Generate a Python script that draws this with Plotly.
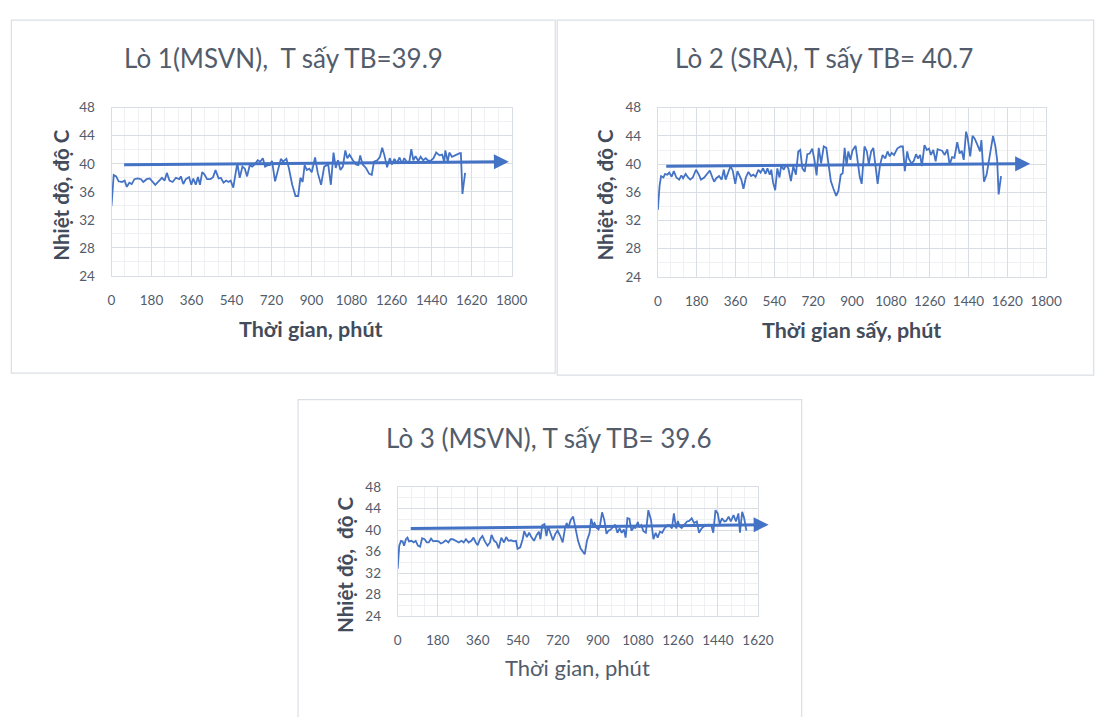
import plotly.graph_objects as go

W, H = 1095, 717

# ---------------- data ----------------
# Lò 1 (MSVN)
t1 = [0, 10, 21, 32, 47, 59, 69, 80, 91, 103, 118, 133, 143, 158, 172, 187, 197, 212, 227, 239,
      249, 261, 275, 290, 305, 312, 323, 334, 349, 359, 368, 379, 389, 398, 408, 418, 430, 445, 457, 468,
      482, 492, 504, 516, 526, 536, 548, 555, 566, 577, 589, 600, 610, 622, 633, 644, 658, 669, 681, 691,
      703, 713, 722, 736, 750, 762, 772, 787, 798, 813, 828, 840, 850, 860, 869, 879, 890, 901, 916, 928,
      943, 957, 975, 987, 999, 1009, 1019, 1030, 1041, 1052, 1061, 1071, 1086, 1100, 1111, 1119, 1130, 1145, 1159, 1171,
      1181, 1196, 1208, 1218, 1228, 1240, 1252, 1262, 1273, 1284, 1296, 1307, 1317, 1328, 1340, 1349, 1358, 1368, 1380, 1391,
      1402, 1414, 1426, 1439, 1449, 1461, 1476, 1488, 1497, 1502, 1513, 1520, 1532, 1542, 1553, 1567, 1572, 1579, 1591]
v1 = [34.0, 38.4, 38.2, 37.5, 37.4, 37.6, 36.7, 37.3, 37.1, 37.8, 37.9, 37.8, 37.4, 37.8, 37.9, 37.4, 37.0, 37.5, 38.0, 37.6,
      38.7, 37.6, 37.4, 38.0, 37.8, 38.2, 37.1, 37.8, 38.1, 37.0, 37.9, 37.0, 38.1, 37.0, 38.8, 38.5, 37.8, 37.8, 38.1, 39.1,
      37.9, 38.0, 37.3, 37.6, 37.4, 37.6, 36.6, 38.0, 40.1, 38.0, 39.6, 39.3, 38.2, 39.8, 39.6, 39.9, 40.5, 40.3, 40.8, 39.6,
      39.8, 39.8, 40.4, 37.5, 39.1, 40.7, 40.3, 40.7, 39.4, 37.0, 35.4, 35.4, 38.0, 37.4, 39.8, 39.1, 39.3, 38.8, 40.9, 38.7,
      37.0, 39.6, 39.9, 37.0, 41.6, 39.4, 40.5, 39.1, 39.6, 41.9, 40.8, 41.3, 40.5, 39.9, 39.8, 41.2, 39.9, 39.4, 38.6, 38.4,
      40.3, 40.5, 41.0, 42.3, 41.2, 39.5, 40.8, 39.9, 40.7, 40.1, 40.9, 40.0, 40.8, 40.3, 40.3, 42.1, 40.5, 41.1, 40.4, 41.0,
      40.5, 40.8, 40.4, 40.5, 40.8, 41.6, 41.2, 41.3, 40.3, 41.9, 40.3, 41.6, 41.0, 41.2, 41.3, 41.5, 41.5, 35.7, 38.7]
trend1_t = [50, 1788]
trend1_v = [39.85, 40.3]

# Lò 2 (SRA)
t2 = [0, 8, 15, 26, 33, 44, 53, 64, 74, 86, 99, 109, 117, 129, 140, 150, 162, 177, 190, 200,
      215, 231, 241, 253, 261, 271, 284, 296, 306, 314, 326, 337, 347, 359, 369, 378, 387, 397, 408, 420,
      432, 443, 453, 466, 476, 488, 499, 508, 519, 526, 534, 544, 554, 564, 572, 584, 594, 605, 617, 628,
      640, 651, 660, 670, 681, 693, 704, 716, 726, 736, 746, 757, 769, 781, 792, 802, 814, 827, 837, 848,
      857, 866, 875, 883, 893, 902, 917, 928, 936, 945, 958, 969, 978, 989, 999, 1012, 1019, 1030, 1042, 1054,
      1065, 1075, 1084, 1095, 1110, 1125, 1136, 1145, 1156, 1163, 1175, 1186, 1197, 1206, 1216, 1224, 1236, 1247, 1257, 1266,
      1277, 1288, 1297, 1307, 1318, 1330, 1342, 1353, 1364, 1375, 1388, 1399, 1409, 1418, 1429, 1436, 1448, 1459, 1469, 1482,
      1494, 1500, 1512, 1524, 1535, 1545, 1554, 1565, 1573, 1580, 1591]
v2 = [33.5, 36.9, 38.3, 38.1, 38.6, 38.5, 38.8, 38.2, 39.0, 38.1, 37.8, 38.4, 38.0, 38.6, 38.1, 37.8, 38.1, 39.2, 38.5, 37.8,
      38.1, 38.8, 39.1, 38.1, 37.5, 38.0, 38.3, 37.8, 39.2, 37.8, 38.8, 39.7, 39.1, 37.2, 39.0, 38.5, 37.8, 36.5, 38.1, 38.9,
      38.3, 38.5, 38.2, 39.2, 38.8, 39.4, 38.6, 39.4, 38.5, 39.2, 37.4, 36.3, 39.4, 38.1, 39.8, 39.2, 39.9, 39.4, 37.6, 39.7,
      38.5, 41.8, 42.0, 39.4, 38.9, 41.4, 41.5, 42.2, 40.6, 38.4, 42.3, 40.1, 42.5, 42.3, 39.4, 37.6, 36.5, 35.5, 36.2, 38.5,
      38.7, 42.3, 39.8, 41.8, 40.6, 41.9, 42.6, 39.7, 38.2, 37.2, 42.5, 41.8, 40.0, 41.8, 42.3, 39.0, 37.2, 39.9, 41.3, 40.8,
      41.8, 41.1, 41.6, 41.3, 42.2, 42.5, 42.5, 39.0, 41.8, 40.8, 40.1, 40.4, 41.4, 40.8, 41.3, 39.7, 42.7, 42.0, 42.2, 41.3,
      42.0, 40.4, 42.1, 42.0, 41.9, 41.3, 42.1, 39.9, 41.0, 40.9, 43.1, 41.5, 41.9, 40.6, 44.6, 43.8, 41.1, 44.0, 43.6, 42.7,
      41.8, 43.4, 37.5, 38.5, 40.4, 42.5, 44.0, 42.5, 40.6, 35.7, 38.3]
trend2_t = [32, 1726]
trend2_v = [39.7, 40.05]

# Lò 3 (MSVN)
t3 = [0, 7, 15, 22, 29, 37, 44, 51, 62, 72, 81, 91, 101, 110, 121, 131, 140, 150, 160, 172,
      184, 194, 204, 216, 228, 238, 248, 260, 275, 287, 297, 307, 319, 331, 341, 351, 360, 370, 381, 392,
      404, 415, 422, 434, 444, 454, 466, 478, 488, 498, 510, 522, 532, 539, 551, 562, 569, 581, 591, 601,
      613, 625, 635, 642, 650, 660, 669, 676, 686, 698, 709, 719, 731, 742, 753, 760, 767, 778, 789, 801,
      811, 822, 833, 841, 851, 863, 870, 878, 885, 895, 903, 910, 919, 929, 939, 948, 958, 969, 978, 988,
      998, 1007, 1017, 1025, 1033, 1042, 1051, 1061, 1069, 1080, 1086, 1095, 1105, 1116, 1127, 1139, 1150, 1160, 1169, 1179,
      1189, 1201, 1213, 1223, 1233, 1242, 1252, 1260, 1267, 1277, 1289, 1301, 1311, 1322, 1333, 1345, 1355, 1366, 1377, 1389,
      1399, 1410, 1419, 1429, 1439, 1448, 1458, 1469, 1477, 1488, 1498, 1510, 1521, 1532, 1539, 1549, 1558, 1568]
v3 = [32.8, 37.1, 38.0, 37.9, 37.1, 38.3, 38.6, 37.9, 38.0, 37.7, 38.0, 37.1, 36.9, 38.5, 38.3, 37.7, 37.7, 38.4, 37.9, 38.0,
      37.9, 37.5, 37.7, 38.1, 37.7, 38.3, 38.3, 38.0, 37.7, 38.0, 37.7, 38.3, 37.7, 38.0, 38.6, 37.7, 37.2, 38.3, 38.9, 37.9,
      37.1, 37.7, 39.1, 38.0, 37.7, 36.6, 38.6, 37.7, 38.7, 38.0, 38.1, 37.9, 38.0, 36.5, 36.8, 38.3, 39.8, 38.7, 39.5, 38.7,
      38.0, 39.1, 39.7, 38.3, 40.9, 41.1, 38.9, 40.7, 39.5, 38.1, 39.3, 39.9, 38.9, 37.7, 40.5, 41.3, 40.4, 41.9, 42.5, 40.1,
      38.0, 36.6, 35.8, 35.5, 38.0, 39.5, 42.1, 40.9, 41.3, 40.4, 40.1, 40.9, 43.3, 41.9, 39.3, 39.9, 40.1, 40.7, 41.0, 39.5,
      40.3, 39.5, 40.1, 38.6, 42.2, 42.1, 39.9, 40.5, 40.4, 41.5, 40.5, 40.9, 39.8, 39.5, 43.7, 41.9, 38.3, 39.5, 38.6, 39.7,
      39.5, 40.4, 40.9, 40.9, 40.3, 43.1, 40.3, 41.7, 40.7, 40.4, 41.0, 41.6, 41.7, 42.2, 41.3, 41.6, 39.5, 40.3, 40.7, 40.9,
      41.0, 40.9, 39.5, 43.7, 43.1, 41.1, 42.2, 41.6, 41.7, 42.5, 41.6, 42.8, 41.6, 43.1, 39.5, 43.4, 42.2, 39.9]
trend3_t = [52, 1668]
trend3_v = [40.3, 41.0]

titles = ["Lò 1(MSVN),  T sấy TB=39.9", "Lò 2 (SRA), T sấy TB= 40.7", "Lò 3 (MSVN), T sấy TB= 39.6"]
xtitles = ["Thời gian, phút", "Thời gian sấy, phút", "Thời gian, phút"]
ytitles = ["Nhiệt độ, độ C", "Nhiệt độ, độ C", "Nhiệt độ,  độ C"]
x_ranges = [[0, 1800], [0, 1800], [0, 1620]]
y_range = [24, 48]

# ---------------- styling / layout ----------------
BLUE = "#4472C4"
TXT = "#525C6B"
TXT_DARK = "#434C5B"
GRID = "#D9DDE4"
MINOR = "#EEF0F4"
FRAME = "#DADFE6"
FONT = "Lato"


def px_x(x):
    return x / W


def px_y(y):
    return 1 - y / H


# plot-area pixel boxes (left, right, top, bottom)
boxes = [(109.5, 517, 102, 274), (666, 1061.5, 102, 275), (401, 768, 490, 622)]

fig = go.Figure()
series = [(t1, v1, trend1_t, trend1_v), (t2, v2, trend2_t, trend2_v), (t3, v3, trend3_t, trend3_v)]

annotations = []
layout_axes = {}
for i, (t, v, tt, tv) in enumerate(series):
    n = "" if i == 0 else str(i + 1)
    fig.add_trace(go.Scatter(x=t, y=v, mode="lines", line=dict(color=BLUE, width=1.8),
                             xaxis="x" + n, yaxis="y" + n, showlegend=False, hoverinfo="skip"))
    l, r, tp, b = boxes[i]
    layout_axes["xaxis" + n] = dict(
        domain=[px_x(l), px_x(r)], anchor="y" + n, range=x_ranges[i], tick0=0, dtick=180,
        showgrid=True, gridcolor=GRID, gridwidth=1,
        minor=dict(tick0=0, dtick=60, showgrid=True, gridcolor=MINOR, gridwidth=1),
        showline=True, mirror=True, linecolor=GRID, linewidth=1, zeroline=False,
        ticks="", ticklabelstandoff=12,
        tickfont=dict(family=FONT, size=13.5, color=TXT), fixedrange=True)
    layout_axes["yaxis" + n] = dict(
        domain=[px_y(b), px_y(tp)], anchor="x" + n, range=y_range, tick0=24, dtick=4,
        showgrid=True, gridcolor=GRID, gridwidth=1,
        minor=dict(tick0=24, dtick=2, showgrid=True, gridcolor=MINOR, gridwidth=1),
        showline=True, mirror=True, linecolor=GRID, linewidth=1, zeroline=False,
        ticks="", ticklabelstandoff=13,
        tickfont=dict(family=FONT, size=13.5, color=TXT), fixedrange=True)
    # trend arrow
    annotations.append(dict(x=tt[1], y=tv[1], ax=tt[0], ay=tv[0], xref="x" + n, yref="y" + n,
                            axref="x" + n, ayref="y" + n, text="", showarrow=True,
                            arrowhead=2, arrowsize=1, arrowwidth=3, arrowcolor=BLUE, standoff=0))

# titles (pixel centres)
title_pos = [(285, 51), (835, 51), (555, 440)]
xt_pos = [(313, 328), (863, 329), (584, 675)]
yt_pos = [(58, 191), (612, 191), (348, 570)]
for i in range(3):
    annotations.append(dict(x=px_x(title_pos[i][0]), y=px_y(title_pos[i][1]), xref="paper", yref="paper",
                            text=titles[i], showarrow=False, xanchor="center", yanchor="middle",
                            font=dict(family=FONT, size=26, color=TXT)))
    bold = i < 2
    annotations.append(dict(x=px_x(xt_pos[i][0]), y=px_y(xt_pos[i][1]), xref="paper", yref="paper",
                            text=("<b>%s</b>" % xtitles[i]) if bold else xtitles[i], showarrow=False,
                            xanchor="center", yanchor="middle",
                            font=dict(family=FONT, size=21.5 if bold else 22, color=TXT_DARK if bold else TXT)))
    annotations.append(dict(x=px_x(yt_pos[i][0]), y=px_y(yt_pos[i][1]), xref="paper", yref="paper",
                            text="<b>%s</b>" % ytitles[i], showarrow=False, textangle=-90,
                            xanchor="center", yanchor="middle",
                            font=dict(family=FONT, size=20.5, color=TXT_DARK)))

# chart frames
frames = [(7.5, 12.5, 561.5, 373.5), (563.5, 12.5, 1110, 375.5), (299.5, 400.5, 812.5, 730)]
shapes = []
for (x0, y0, x1, y1) in frames:
    shapes.append(dict(type="rect", xref="paper", yref="paper", x0=px_x(x0), x1=px_x(x1),
                       y0=px_y(y1), y1=px_y(y0), line=dict(color=FRAME, width=1.2), layer="below"))

fig.update_layout(width=W, height=H, margin=dict(l=0, r=0, t=0, b=0), autosize=False,
                  paper_bgcolor="white", plot_bgcolor="white", showlegend=False,
                  annotations=annotations, shapes=shapes, **layout_axes)

fig.write_html("out.html")
